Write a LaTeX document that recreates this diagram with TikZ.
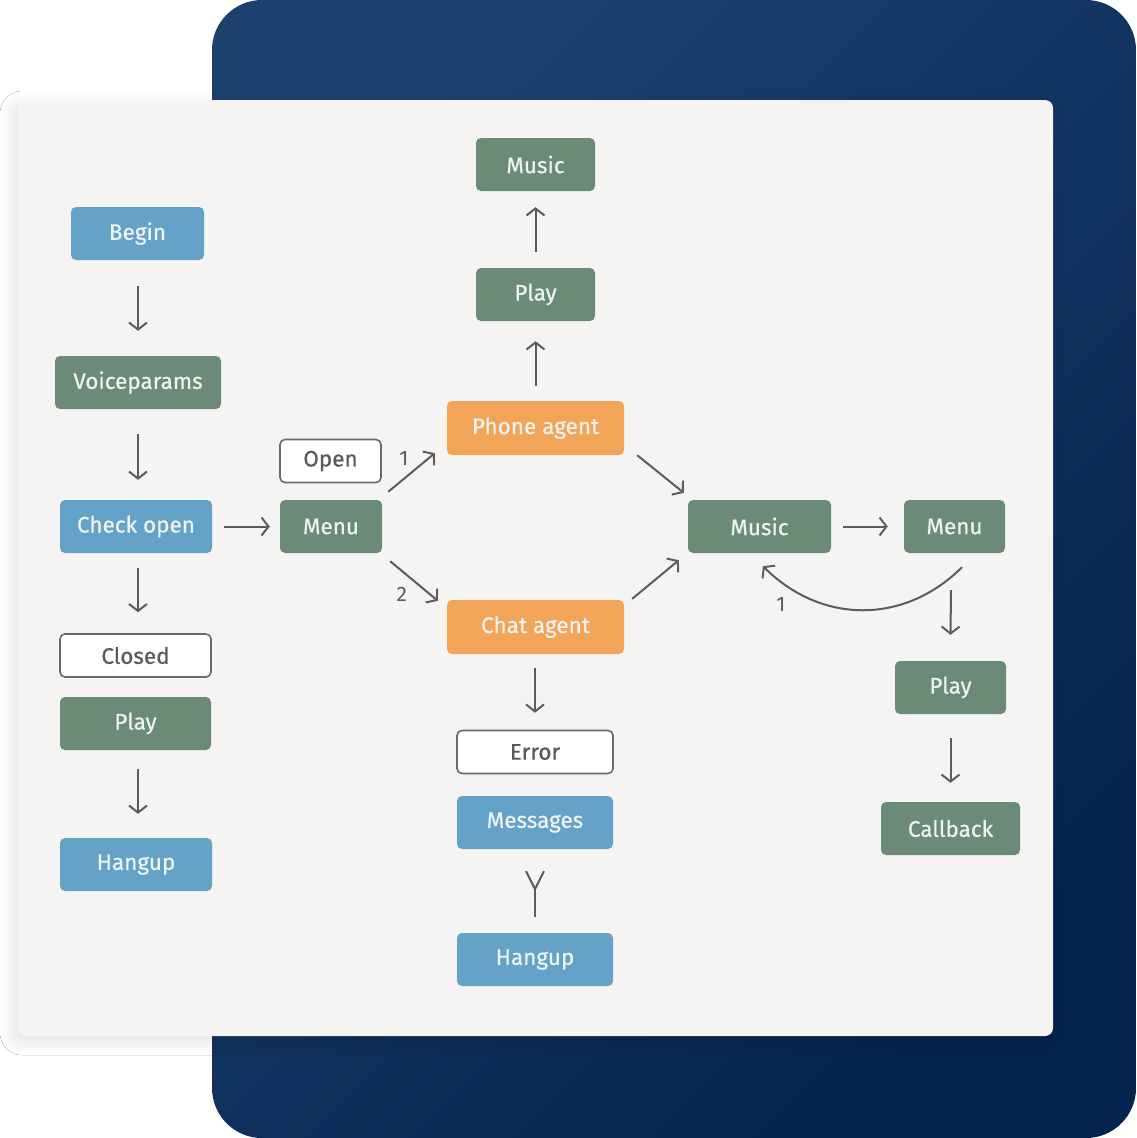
\documentclass[tikz,border=0pt]{standalone}
\usepackage{fontspec}
\setmainfont{Fira Sans}
\newfontfamily\boxfont{Fira Sans}[FakeBold=0.6]
\usetikzlibrary{arrows.meta,shadows.blur,calc}
\definecolor{cblue}{HTML}{64A2C8}
\definecolor{cgreen}{HTML}{6C8A78}
\definecolor{corange}{HTML}{F2A459}
\definecolor{boxtext}{HTML}{EEF3F0}
\definecolor{ctext}{HTML}{5A5A5A}
\definecolor{cline}{HTML}{6A6A6A}
\definecolor{carrow}{HTML}{5C5C5C}
\definecolor{cpanel}{HTML}{F5F4F2}
\definecolor{navyA}{HTML}{1D416F}
\definecolor{navyB}{HTML}{04244E}
\tikzset{
  box/.style={rounded corners=5pt, minimum height=53pt, inner sep=0pt, font=\boxfont\fontsize{22.5}{26}\selectfont, text=boxtext},
  bluebox/.style={box, fill=cblue},
  greenbox/.style={box, fill=cgreen},
  orangebox/.style={box, fill=corange},
  outbox/.style={box, fill=white, draw=cline, line width=1.6pt, minimum height=43pt, text=ctext},
  conn/.style={draw=carrow, line width=2pt, -{Straight Barb[length=7pt,width=18pt,line width=2pt]}},
  ylink/.style={draw=carrow, line width=2pt, {Straight Barb[reversed,length=18pt,width=18pt,line width=2pt]}-},
  lbl/.style={font=\fontsize{21}{24}\selectfont, text=ctext, inner sep=0pt},
}
\begin{document}
\begin{tikzpicture}[x=1pt,y=-1pt]
\useasboundingbox (0,0) rectangle (1136,1138);
\fill[white] (0,0) rectangle (1136,1138);
\shade[rounded corners=50pt, top color=navyA, bottom color=navyB, shading angle=45] (212,0) rectangle (1136,1138);
\fill[cpanel, rounded corners=8pt, blur shadow={shadow xshift=-4pt, shadow yshift=-5pt, shadow blur radius=14pt, shadow blur steps=12, shadow opacity=12}] (18,100) rectangle (1053,1036);

% left column
\node[bluebox, minimum width=133pt] (begin) at (137.5,233.5) {Begin};
\node[greenbox, minimum width=166pt] (voice) at (138,382.5) {Voiceparams};
\node[bluebox, minimum width=152pt] (check) at (136,526.5) {Check open};
\node[outbox, minimum width=151pt] (closed) at (135.5,655.5) {Closed};
\node[greenbox, minimum width=151pt] (playL) at (135.5,723.5) {Play};
\node[bluebox, minimum width=152pt] (hangL) at (136,864.5) {Hangup};

% middle
\node[outbox, minimum width=101pt] (open) at (330.5,461) {Open};
\node[greenbox, minimum width=102pt] (menu) at (331,526.5) {Menu};
\node[orangebox, minimum width=177pt, minimum height=54pt] (phone) at (535.5,428) {Phone agent};
\node[orangebox, minimum width=177pt, minimum height=54pt] (chat) at (535.5,627) {Chat agent};
\node[greenbox, minimum width=119pt] (playT) at (535.5,294.5) {Play};
\node[greenbox, minimum width=119pt] (musicT) at (535.5,164.5) {Music};
\node[outbox, minimum width=156pt] (error) at (535,752) {Error};
\node[bluebox, minimum width=156pt] (msgs) at (535,822.5) {Messages};
\node[bluebox, minimum width=156pt] (hangC) at (535,959.5) {Hangup};

% right
\node[greenbox, minimum width=143pt] (musicR) at (759.5,526.5) {Music};
\node[greenbox, minimum width=101pt] (menuR) at (954.5,526.5) {Menu};
\node[greenbox, minimum width=111pt] (playR) at (950.5,687.5) {Play};
\node[greenbox, minimum width=139pt] (callback) at (950.5,828.5) {Callback};

% connectors
\draw[conn] ($(begin.south)+(0.5,26)$) -- ($(voice.north)+(0,-25)$);
\draw[conn] ($(voice.south)+(0,25)$) -- ($(check.north)+(2,-20)$);
\draw[conn] ($(check.south)+(2,15)$) -- ($(closed.north)+(2.5,-21)$);
\draw[conn] ($(playL.south)+(2.5,19)$) -- ($(hangL.north)+(2,-24)$);
\draw[conn] ($(check.east)+(12,0)$) -- ($(menu.west)+(-10,0)$);

\draw[conn] ($(menu.north east)+(6,-8)$) -- ($(phone.south west)+(-12,-2)$) node[lbl, pos=1, xshift=-31pt, yshift=-5pt] {1};
\draw[conn] ($(menu.south east)+(8,8)$) -- ($(chat.north west)+(-9,1)$) node[lbl, pos=1, xshift=-36pt, yshift=6pt] {2};

\draw[conn] ($(phone.north)+(0,-15)$) -- ($(playT.south)+(0,20)$);
\draw[conn] ($(playT.north)+(0,-16)$) -- ($(musicT.south)+(0,16)$);

\draw[conn] ($(phone.south east)+(13,0)$) -- ($(musicR.north west)+(-4,-7)$);
\draw[conn] ($(chat.north east)+(8,-1)$) -- ($(musicR.south west)+(-9,7)$);
\draw[conn] ($(musicR.east)+(12,0)$) -- ($(menuR.west)+(-16,0)$);

\draw[conn] ($(menuR.south)+(7.5,14)$) .. controls (904,625) and (821,624) .. ($(musicR.south)+(3.5,13)$);
\node[lbl] (one) at (781,604) {1};

\draw[conn] ($(menuR.south)+(-3.5,37)$) -- ($(playR.north)+(0,-26)$);
\draw[conn] ($(playR.south)+(0,24)$) -- ($(callback.north)+(0,-19)$);

\draw[conn] ($(chat.south)+(-0.5,14)$) -- ($(error.north)+(0,-17)$);
\draw[ylink] ($(msgs.south)+(0,21)$) -- ($(hangC.north)+(0,-16)$);
\end{tikzpicture}
\end{document}
